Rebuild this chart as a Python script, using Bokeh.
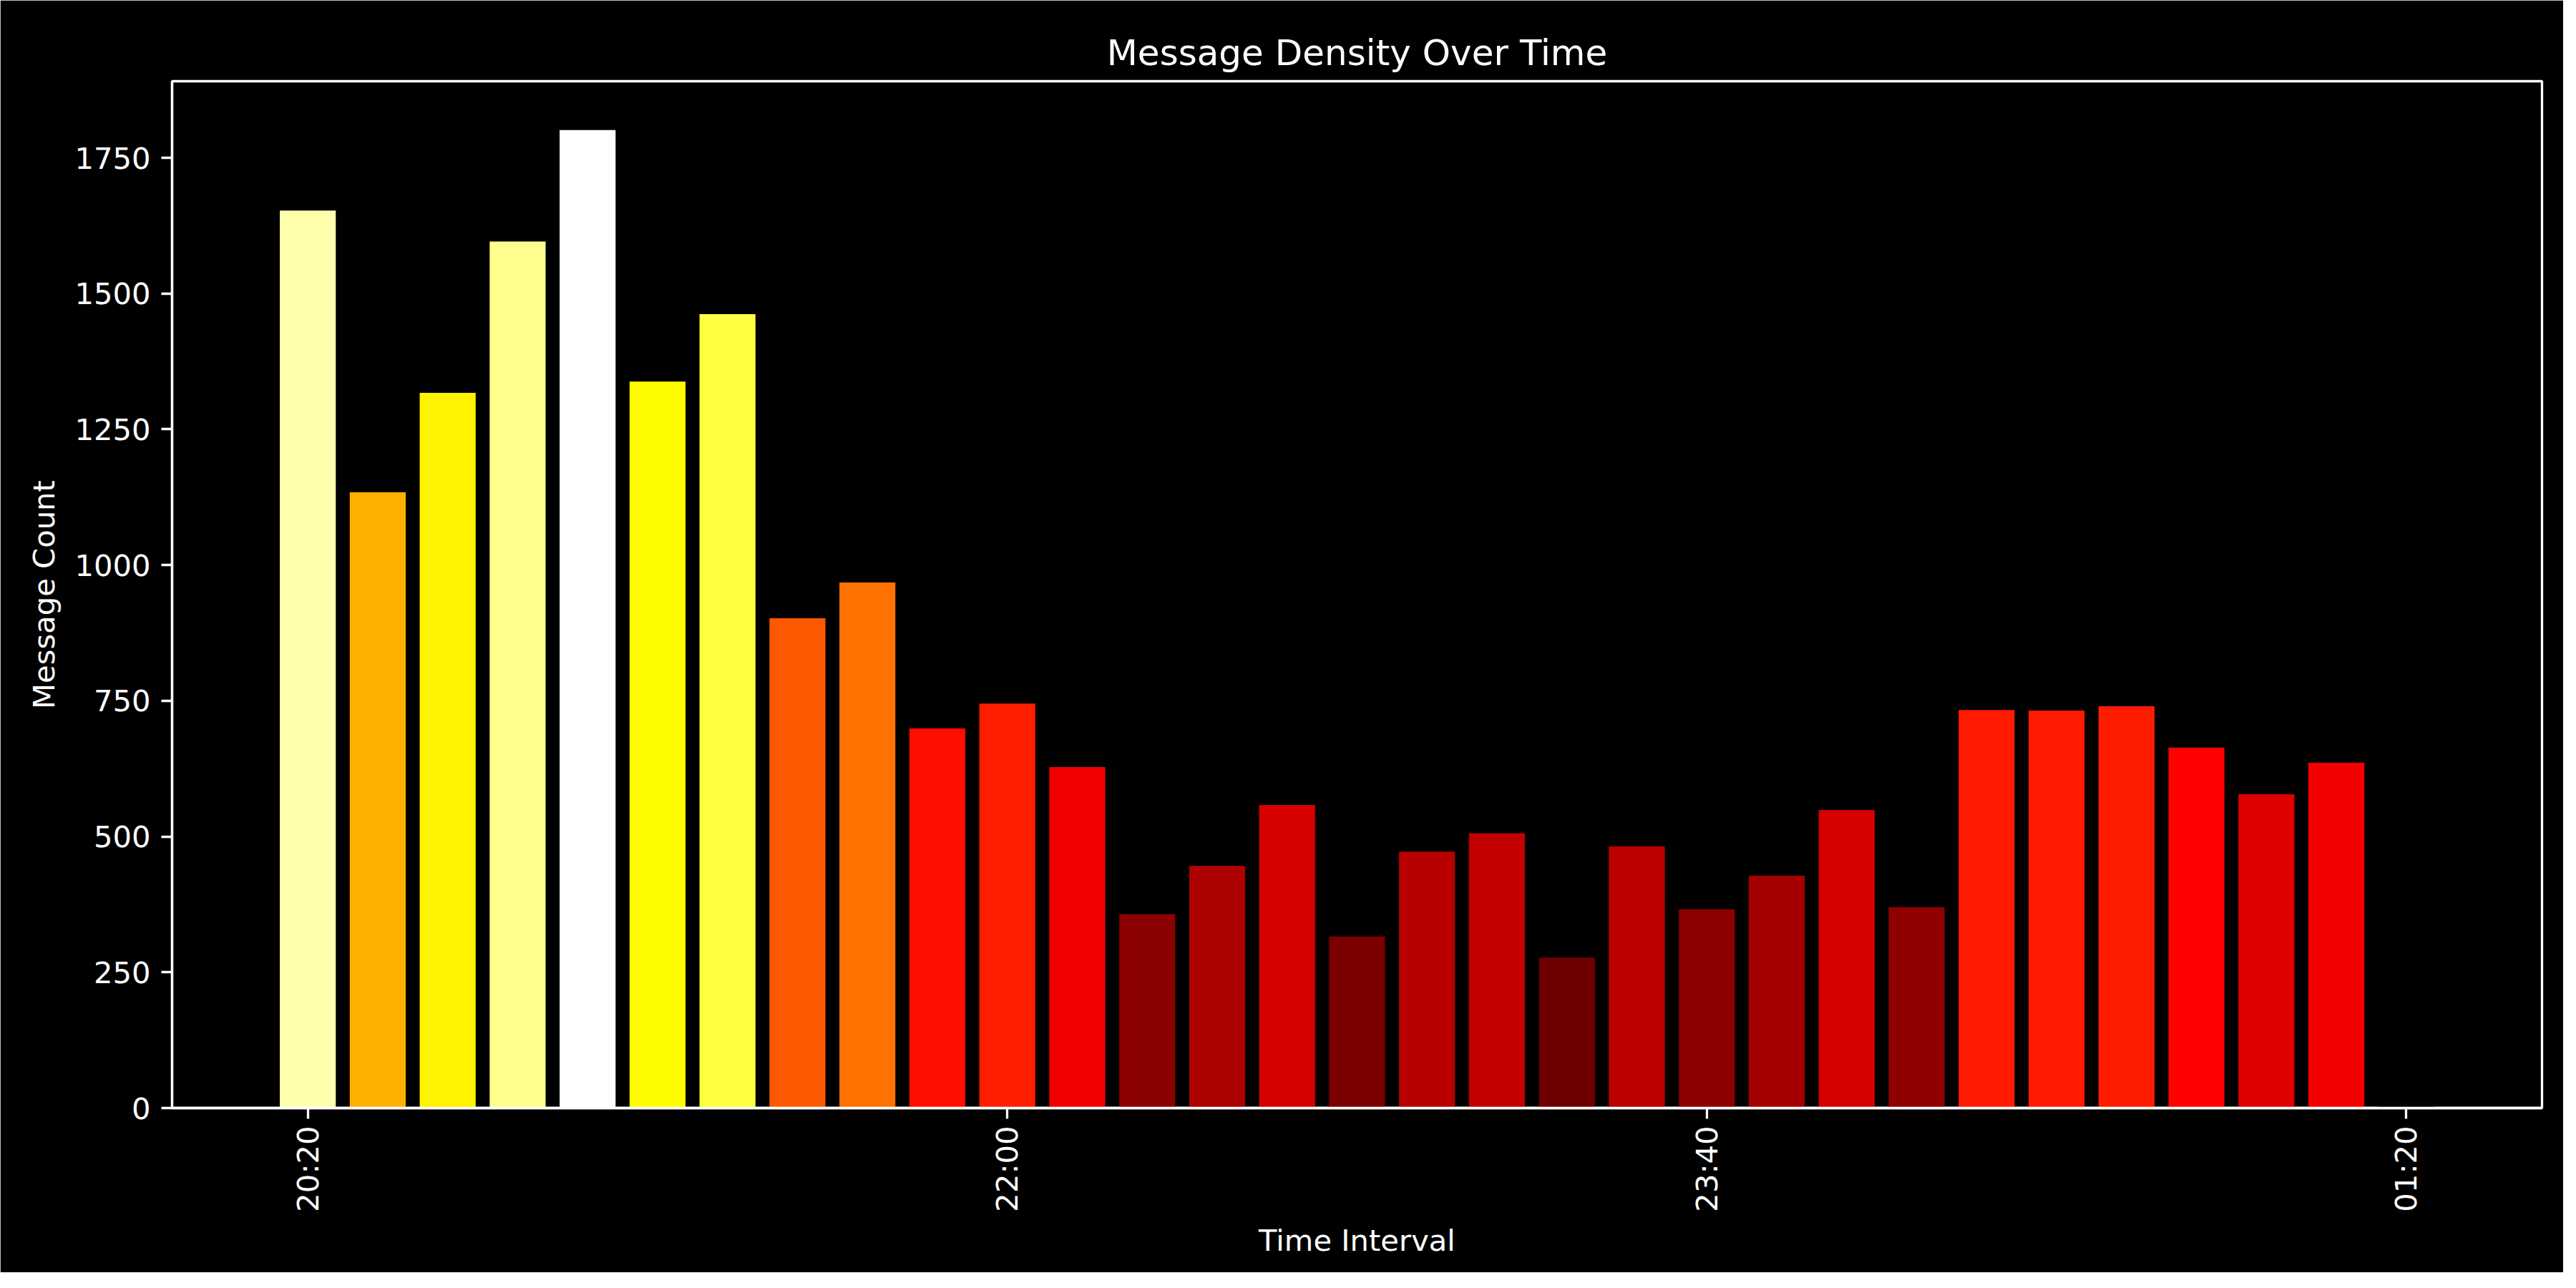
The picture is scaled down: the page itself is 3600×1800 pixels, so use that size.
import math
import pandas as pd
from bokeh.plotting import figure
from bokeh.models import (ColumnDataSource, LinearColorMapper, Range1d, FixedTicker,
                          DatetimeTickFormatter)
from bokeh.embed import file_html
from bokeh.resources import INLINE

# ---------------- data ----------------
times = [
    "2024-01-01 20:20", "2024-01-01 20:30", "2024-01-01 20:40", "2024-01-01 20:50",
    "2024-01-01 21:00", "2024-01-01 21:10", "2024-01-01 21:20", "2024-01-01 21:30",
    "2024-01-01 21:40", "2024-01-01 21:50", "2024-01-01 22:00", "2024-01-01 22:10",
    "2024-01-01 22:20", "2024-01-01 22:30", "2024-01-01 22:40", "2024-01-01 22:50",
    "2024-01-01 23:00", "2024-01-01 23:10", "2024-01-01 23:20", "2024-01-01 23:30",
    "2024-01-01 23:40", "2024-01-01 23:50", "2024-01-02 00:00", "2024-01-02 00:10",
    "2024-01-02 00:20", "2024-01-02 00:30", "2024-01-02 00:40", "2024-01-02 00:50",
    "2024-01-02 01:00", "2024-01-02 01:10", "2024-01-02 01:20",
]
message_counts = [
    1653, 1134, 1317, 1596, 1801, 1338, 1462, 902,
    968, 699, 745, 628, 357, 446, 558, 316,
    472, 506, 277, 482, 366, 428, 549, 370,
    733, 732, 740, 664, 578, 636, 10,
]
tick_times = ["2024-01-01 20:20", "2024-01-01 22:00", "2024-01-01 23:40", "2024-01-02 01:20"]
tick_labels = ["20:20", "22:00", "23:40", "01:20"]

# ---------------- matplotlib "hot" colormap ----------------
def hot(x):
    r = 0.0416 + (1 - 0.0416) * min(max(x / 0.365079, 0), 1)
    g = min(max((x - 0.365079) / (0.746032 - 0.365079), 0), 1)
    b = min(max((x - 0.746032) / (1 - 0.746032), 0), 1)
    return "#%02x%02x%02x" % (round(r * 255), round(g * 255), round(b * 255))

hot_palette = [hot(i / 255) for i in range(256)]

x = pd.to_datetime(times)
src = ColumnDataSource(dict(x=x, y=message_counts))
mapper = LinearColorMapper(palette=hot_palette, low=min(message_counts), high=max(message_counts))

FONT = "DejaVu Sans"
bar_w = pd.Timedelta(minutes=8)
x_lo = x.min() - bar_w / 2
x_hi = x.max() + bar_w / 2
pad = (x_hi - x_lo) * 0.05

p = figure(
    x_axis_type="datetime",
    frame_width=3312, frame_height=1435,
    min_border_left=240, min_border_right=30, min_border_top=113, min_border_bottom=230,
    output_backend="svg", toolbar_location=None,
    x_range=Range1d(x_lo - pad, x_hi + pad),
    y_range=Range1d(0, max(message_counts) * 1.05),
    title="Message Density Over Time",
)

p.vbar(x="x", top="y", width=bar_w.total_seconds() * 1000, source=src,
       fill_color={"field": "y", "transform": mapper}, line_color=None)

# styling
p.background_fill_color = "black"
p.border_fill_color = "black"
p.outline_line_color = "white"
p.outline_line_width = 3.3
p.xgrid.visible = False
p.ygrid.visible = False

p.title.text_font = FONT
p.title.text_font_size = "50px"
p.title.text_font_style = "normal"
p.title.text_color = "white"
p.title.align = "center"
p.title.standoff = 22

tick_ms = [pd.Timestamp(t).value // 10**6 for t in tick_times]
p.xaxis.ticker = FixedTicker(ticks=tick_ms)
p.xaxis.major_label_overrides = {t: lab for t, lab in zip(tick_ms, tick_labels)}
p.xaxis.formatter = DatetimeTickFormatter(minutes="%H:%M", hours="%H:%M", days="%H:%M",
                                          hourmin="%H:%M", minsec="%H:%M")
p.xaxis.major_label_orientation = math.pi / 2
p.yaxis.ticker = FixedTicker(ticks=[0, 250, 500, 750, 1000, 1250, 1500, 1750])

p.xaxis.axis_label = "Time Interval"
p.yaxis.axis_label = "Message Count"

for ax in (p.xaxis, p.yaxis):
    ax.axis_line_color = "white"
    ax.axis_line_width = 3.3
    ax.major_tick_line_color = "white"
    ax.major_tick_line_width = 3.3
    ax.major_tick_out = 15
    ax.major_tick_in = 0
    ax.minor_tick_line_color = None
    ax.major_label_text_color = "white"
    ax.major_label_text_font = FONT
    ax.major_label_text_font_size = "41.7px"
    ax.major_label_standoff = 15
    ax.axis_label_text_color = "white"
    ax.axis_label_text_font = FONT
    ax.axis_label_text_font_size = "41.7px"
    ax.axis_label_text_font_style = "normal"
p.xaxis.major_label_standoff = 10
p.xaxis.axis_label_standoff = 12
p.yaxis.axis_label_standoff = 15

open("out.html", "w").write(file_html(p, INLINE))
